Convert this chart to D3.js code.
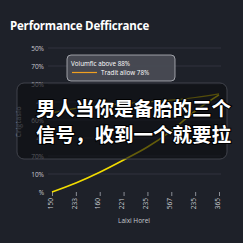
<!DOCTYPE html>
<html>
<head>
<meta charset="utf-8">
<script src="https://cdn.jsdelivr.net/npm/d3@7"></script>
<style>
  html, body { margin: 0; padding: 0; background: #1e2129; }
  svg { display: block; }
</style>
</head>
<body>
<div id="vis"></div>
<script>

var xLabels = ['150', '233', '160', '221', '235', '567', '235', '365'];
var yLabels = ['%', '10%', '70%', '40', '60%', '40', '50%', '70%', '50%'];

// values in tick steps (0 = bottom tick)
var volumficValues = [0, 0.5, 1.1, 1.78, 2.5, 3.4, 4.5, 5.4];
var traditValues = [4.4, 4.65, 4.8, 4.9, 5.0, 5.1, 5.25, 5.45];

var legendNames = ['Volumfic above 88%', 'Tradit allow 78%'];

var width = 243;
var height = 243;

var svg = d3.select('#vis').append('svg')
  .attr('width', width)
  .attr('height', height);

svg.append('rect').attr('width', width).attr('height', height).attr('fill', '#1e2129');

svg.append('text')
  .attr('x', 10).attr('y', 30)
  .attr('fill', '#ffffff')
  .attr('font-family', 'Open Sans')
  .attr('font-weight', 'bold')
  .attr('font-size', 11.5)
  .attr('letter-spacing', -0.2)
  .text('Performance Defficrance');

var x = d3.scalePoint()
  .domain(d3.range(xLabels.length))
  .range([52, 219]);

var y = d3.scaleLinear()
  .domain([0, yLabels.length - 1])
  .range([192, 48]);

// gridlines
svg.append('g').selectAll('line')
  .data(d3.range(1, yLabels.length))
  .enter().append('line')
  .attr('x1', 48).attr('x2', 221)
  .attr('y1', function (d) { return y(d); })
  .attr('y2', function (d) { return y(d); })
  .attr('stroke', '#353944')
  .attr('stroke-width', 0.8);

// y tick labels
svg.append('g').selectAll('text')
  .data(yLabels)
  .enter().append('text')
  .attr('x', 44)
  .attr('y', function (d, i) { return y(i) + 2.5; })
  .attr('text-anchor', 'end')
  .attr('fill', '#c8cad0')
  .attr('font-family', 'Open Sans')
  .attr('font-size', 6.5)
  .text(function (d) { return d; });

// x axis
var xAxis = svg.append('g')
  .attr('transform', 'translate(0,' + 192 + ')')
  .call(d3.axisBottom(x).tickSize(4).tickFormat(function (i) { return xLabels[i]; }));
xAxis.select('.domain').remove();
xAxis.selectAll('line').attr('stroke', '#8a8d95');
xAxis.selectAll('text')
  .attr('fill', '#c8cad0')
  .attr('font-family', 'Open Sans')
  .attr('font-size', 6.5)
  .attr('text-anchor', 'end')
  .attr('transform', 'rotate(-90)')
  .attr('x', -6)
  .attr('y', -2)
  .attr('dy', '0.35em');

svg.append('text')
  .attr('x', 134).attr('y', 223)
  .attr('text-anchor', 'middle')
  .attr('fill', '#c8cad0')
  .attr('font-family', 'Open Sans')
  .attr('font-size', 6.5)
  .text('Laixi Horel');

svg.append('text')
  .attr('transform', 'translate(21,122) rotate(-90)')
  .attr('text-anchor', 'middle')
  .attr('fill', '#7a7d85')
  .attr('font-family', 'Open Sans')
  .attr('font-weight', 'bold')
  .attr('font-size', 7)
  .text('Crigtasio');

var line = d3.line()
  .x(function (d, i) { return x(i); })
  .y(function (d) { return y(d); })
  .curve(d3.curveMonotoneX);

svg.append('path')
  .datum(traditValues)
  .attr('d', line)
  .attr('fill', 'none')
  .attr('stroke', '#c9b400')
  .attr('stroke-width', 1.2);

svg.append('path')
  .datum(volumficValues)
  .attr('d', line)
  .attr('fill', 'none')
  .attr('stroke', '#f2dc00')
  .attr('stroke-width', 1.6);

// legend
var legend = svg.append('g');
legend.append('rect')
  .attr('x', 67).attr('y', 55).attr('width', 108).attr('height', 26)
  .attr('rx', 4)
  .attr('fill', '#4a4d55').attr('fill-opacity', 0.9)
  .attr('stroke', '#b8bac0').attr('stroke-width', 0.8);
legend.append('text')
  .attr('x', 71).attr('y', 66)
  .attr('fill', '#ffffff')
  .attr('font-family', 'Open Sans')
  .attr('font-size', 6.3)
  .text(legendNames[0]);
legend.append('line')
  .attr('x1', 72).attr('x2', 97).attr('y1', 72.5).attr('y2', 72.5)
  .attr('stroke', '#f0a020').attr('stroke-width', 1.2);
legend.append('text')
  .attr('x', 101).attr('y', 75)
  .attr('fill', '#ffffff')
  .attr('font-family', 'Open Sans')
  .attr('font-size', 6.3)
  .text(legendNames[1]);

// caption overlay
svg.append('rect')
  .attr('x', 17).attr('y', 83).attr('width', 210).attr('height', 76)
  .attr('rx', 7)
  .attr('fill', '#0c0d10').attr('fill-opacity', 0.62)
  .attr('stroke', '#4a4d55').attr('stroke-width', 0.8);

var caption = ['男人当你是备胎的三个', '信号，收到一个就要拉'];
svg.append('g').selectAll('text')
  .data(caption)
  .enter().append('text')
  .attr('x', 36)
  .attr('y', function (d, i) { return 116 + i * 26; })
  .attr('fill', '#ffffff')
  .attr('stroke', '#000000')
  .attr('stroke-width', 2)
  .attr('paint-order', 'stroke')
  .attr('font-family', 'Noto Sans CJK SC')
  .attr('font-weight', 'bold')
  .attr('font-size', 19.5)
  .text(function (d) { return d; });

</script>
</body>
</html>
